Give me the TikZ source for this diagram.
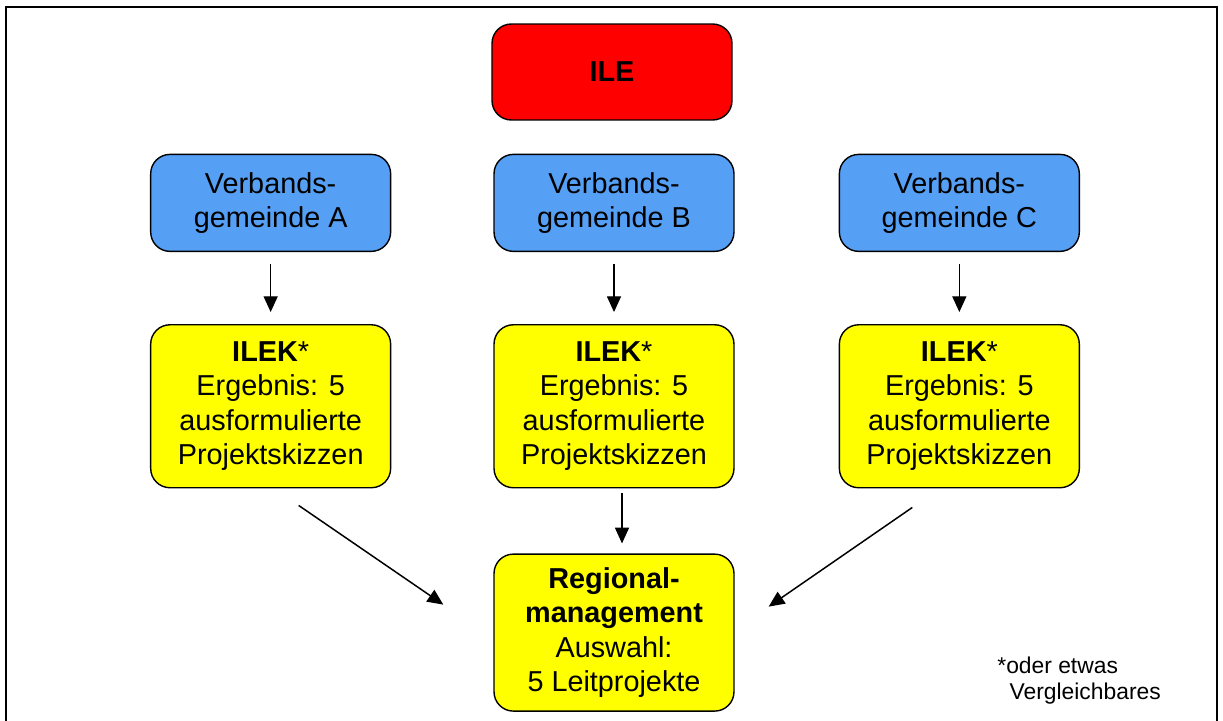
\documentclass[tikz,border=0pt]{standalone}
\usepackage{fontspec}
\setmainfont{Liberation Sans}
\usepackage{tikz}
\usetikzlibrary{positioning,arrows.meta}
\definecolor{ilered}{HTML}{FF0000}
\definecolor{vgblue}{HTML}{55A0F5}
\definecolor{ilekyellow}{HTML}{FFFF00}
\tikzset{
  box/.style={rectangle, rounded corners=11pt, draw=black, line width=0.8pt, minimum width=4.8cm, align=center, inner sep=2pt, font=\fontsize{16.4}{19.6}\selectfont},
  redbox/.style={box, fill=ilered, minimum height=1.92cm},
  bluebox/.style={box, fill=vgblue, minimum height=1.94cm},
  yellowbox/.style={box, fill=ilekyellow, minimum height=3.26cm},
  flow/.style={-{Triangle[length=9pt,width=8pt]}, line width=0.85pt},
}

\begin{document}
\begin{tikzpicture}[x=0.02cm, y=-0.02cm]
  \useasboundingbox (0,0) rectangle (1223,720);
  % frame, open at the bottom
  \draw[line width=1.2pt] (6,725) -- (6,7) -- (1217,7) -- (1217,725);

  \node[redbox] (ile) at (612,72) {\textbf{ILE}};
  \node[bluebox] (vgB) [below=0.66cm of ile, xshift=0.04cm] {Verbands-\\gemeinde B};
  \node[bluebox] (vgA) [left=2.04cm of vgB] {Verbands-\\gemeinde A};
  \node[bluebox] (vgC) [right=2.08cm of vgB] {Verbands-\\gemeinde C};

  \node[yellowbox] (ilekA) [below=1.44cm of vgA] {\textbf{ILEK}*\\Ergebnis: 5\\ausformulierte\\Projektskizzen};
  \node[yellowbox] (ilekB) [below=1.44cm of vgB] {\textbf{ILEK}*\\Ergebnis: 5\\ausformulierte\\Projektskizzen};
  \node[yellowbox] (ilekC) [below=1.44cm of vgC] {\textbf{ILEK}*\\Ergebnis: 5\\ausformulierte\\Projektskizzen};

  \node[yellowbox, minimum height=3.14cm] (reg) [below=1.3cm of ilekB] {\textbf{Regional-}\\\textbf{management}\\Auswahl:\\5 Leitprojekte};

  \node[anchor=north west, inner sep=0pt, align=left, font=\fontsize{13}{14.4}\selectfont] (note) at (997,657) {*oder etwas\\\hspace{7pt}Vergleichbares};

  \coordinate (fromA) at ([xshift=0.56cm, yshift=-0.34cm]ilekA.south);
  \coordinate (toA) at ([xshift=-1cm, yshift=0.56cm]reg.west);
  \coordinate (fromC) at ([xshift=-0.94cm, yshift=-0.38cm]ilekC.south);
  \coordinate (toC) at ([xshift=0.68cm, yshift=0.52cm]reg.east);

  \draw[flow, shorten <=0.24cm, shorten >=0.24cm] (vgA) -- (ilekA);
  \draw[flow, shorten <=0.24cm, shorten >=0.24cm] (vgB) -- (ilekB);
  \draw[flow, shorten <=0.24cm, shorten >=0.24cm] (vgC) -- (ilekC);
  \draw[flow, shorten <=0.1cm, shorten >=0.2cm] ([xshift=0.16cm]ilekB.south) -- ([xshift=0.16cm]reg.north);
  \draw[flow] (fromA) -- (toA);
  \draw[flow] (fromC) -- (toC);
\end{tikzpicture}
\end{document}
